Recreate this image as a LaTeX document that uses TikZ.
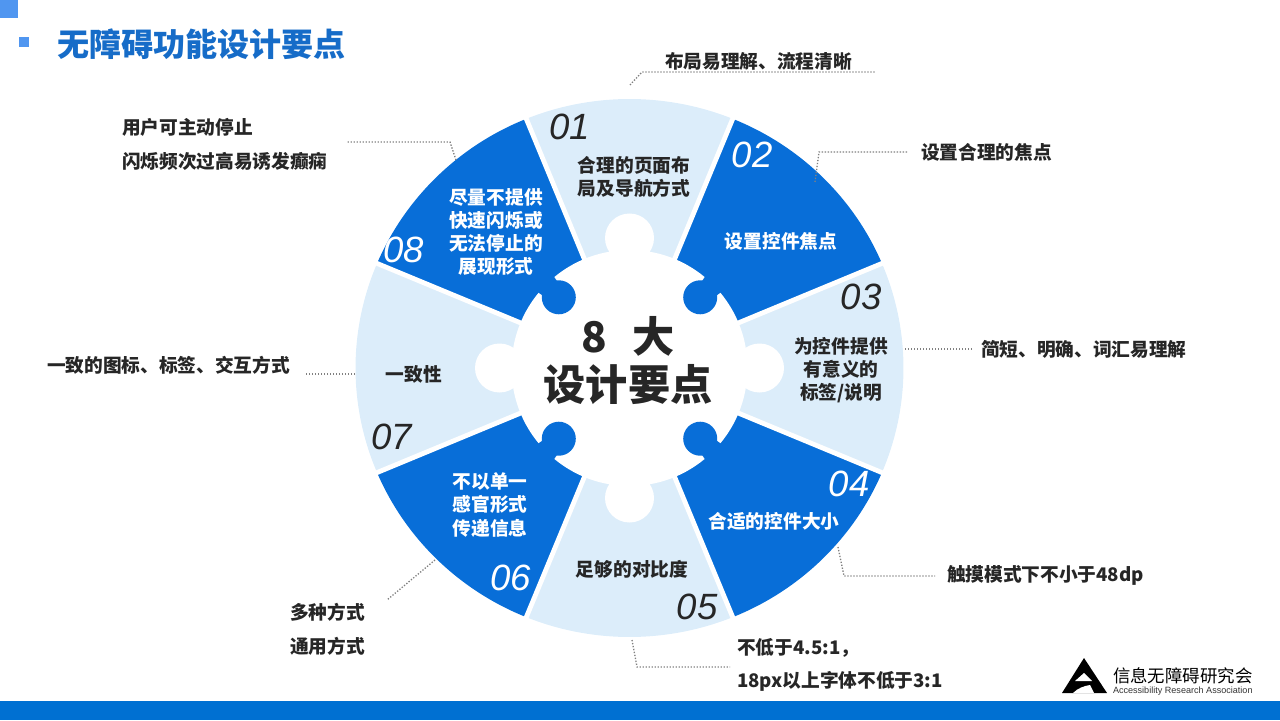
\documentclass[tikz,border=0pt]{standalone}
\usepackage{fontspec}
\setmainfont{Noto Sans CJK SC}
\newfontfamily\numfont{Liberation Sans}
\usetikzlibrary{positioning}

\definecolor{wheelblue}{RGB}{8,110,216}
\definecolor{wheellight}{RGB}{220,237,250}
\definecolor{barblue}{RGB}{0,112,210}
\definecolor{titleblue}{RGB}{22,108,200}
\definecolor{squareblue}{RGB}{80,150,240}
\definecolor{inkdark}{RGB}{38,38,38}

\begin{document}
\begin{tikzpicture}[x=0.25mm, y=0.25mm,
    every node/.style={inner sep=0, outer sep=0},
    note/.style={font=\fontsize{13.3}{16.4}\selectfont\bfseries, text=inkdark, anchor=west},
    inner/.style={font=\fontsize{13.3}{16.4}\selectfont\bfseries, align=center},
    num/.style={font=\numfont\itshape\fontsize{26}{26}\selectfont},
    leader/.style={draw=black!50, line width=0.33mm, dash pattern=on 0.33mm off 0.42mm}]

   \useasboundingbox (0,0) rectangle (1280,720);

   \fill[squareblue] (0,702) rectangle (18,720);
   \fill[squareblue] (19,673) rectangle (29,683);
   \fill[barblue] (0,0) rectangle (1280,19);
   \node[font=\fontsize{22.8}{26}\selectfont\bfseries, text=titleblue, anchor=west] (title) at (57,676) {无障碍功能设计要点};

   \begin{scope}[shift={(629.5,352)}]
     \foreach \a/\c in {90/wheellight, 45/wheelblue, 0/wheellight, 315/wheelblue, 270/wheellight, 225/wheelblue, 180/wheellight, 135/wheelblue}
       \fill[\c] (0,0) -- (\a-22.5:274 and 269) arc[start angle=\a-22.5, end angle=\a+22.5, x radius=274, y radius=269] -- cycle;
     \foreach \a in {22.5,67.5,...,337.5}
       \draw[white, line width=1.2mm] (0,0) -- (\a:285);
     \fill[white] (0,0) circle[radius=118];
     \foreach \a in {0,90,180,270}
       \fill[white, rotate=\a] (130,0) circle[radius=24.5];
     \foreach \a in {45,135,225,315} {
       \fill[wheelblue, rotate=\a] (100,0) circle[radius=17];
       \fill[wheelblue, rotate=\a] (120,-11.5) -- (120,11.5) -- (106,9) -- (106,-9) -- cycle;
     }
   \end{scope}

   \node[inner, text=inkdark] (sec1) at (634,543) {合理的页面布\\局及导航方式};
   \node[inner, text=white] (sec2) at (781,479) {设置控件焦点};
   \node[inner, text=inkdark] (sec3) at (841,350) {为控件提供\\有意义的\\标签/说明};
   \node[inner, text=white] (sec4) at (774,199) {合适的控件大小};
   \node[inner, text=inkdark] (sec5) at (632,151) {足够的对比度};
   \node[inner, text=white] (sec6) at (490,215) {不以单一\\感官形式\\传递信息};
   \node[inner, text=inkdark] (sec7) at (414,346) {一致性};
   \node[inner, text=white] (sec8) at (496,488) {尽量不提供\\快速闪烁或\\无法停止的\\展现形式};

   \node[num, text=inkdark] (num1) at (570,593) {01};
   \node[num, text=white] (num2) at (752,565) {02};
   \node[num, text=inkdark] (num3) at (861,423) {03};
   \node[num, text=white] (num4) at (849,236) {04};
   \node[num, text=inkdark] (num5) at (697,113) {05};
   \node[num, text=white] (num6) at (511,142) {06};
   \node[num, text=inkdark] (num7) at (392,283) {07};
   \node[num, text=white] (num8) at (404,470) {08};

   \node[font=\fontsize{30}{30}\selectfont\bfseries, text=inkdark] (hub1) at (628,384) {8\hspace{0.6em}大};
   \node[font=\fontsize{30}{30}\selectfont\bfseries, text=inkdark] (hub2) at (628,335) {设计要点};

   \node[note] (note1) at (665,659) {布局易理解、流程清晰};
   \node[note] (note2) at (921,568) {设置合理的焦点};
   \node[note] (note3) at (981,371) {简短、明确、词汇易理解};
   \node[note] (note4) at (947,145) {触摸模式下不小于48dp};
   \node[note] (note5) at (737,72) {不低于4.5:1，};
   \node[note] (note5b) at (737,39) {18px以上字体不低于3:1};
   \node[note] (note6) at (290,108) {多种方式};
   \node[note] (note6b) at (290,74) {通用方式};
   \node[note] (note7) at (47,355) {一致的图标、标签、交互方式};
   \node[note] (note8) at (122,593) {用户可主动停止};
   \node[note] (note8b) at (122,559) {闪烁频次过高易诱发癫痫};

   \coordinate (a1) at (630,635);
   \coordinate (b1) at (642,648);
   \coordinate (c1) at (875,648);
   \coordinate (a2) at (815,538);
   \coordinate (b2) at (819,568);
   \coordinate (c2) at (908,568);
   \coordinate (a3) at (905,371);
   \coordinate (c3) at (972,371);
   \coordinate (a4) at (838,173);
   \coordinate (b4) at (844,144);
   \coordinate (c4) at (935,144);
   \coordinate (a5) at (632,80);
   \coordinate (b5) at (637,53);
   \coordinate (c5) at (730,53);
   \coordinate (a6) at (435,160);
   \coordinate (c6) at (387,120);
   \coordinate (a7) at (355,346);
   \coordinate (c7) at (305,346);
   \coordinate (a8) at (456,560);
   \coordinate (b8) at (450,578);
   \coordinate (c8) at (347,578);

   \draw[leader] (a1) -- (b1) -- (c1);
   \draw[leader] (a2) -- (b2) -- (c2);
   \draw[leader] (a3) -- (c3);
   \draw[leader] (a4) -- (b4) -- (c4);
   \draw[leader] (a5) -- (b5) -- (c5);
   \draw[leader] (a6) -- (c6);
   \draw[leader] (a7) -- (c7);
   \draw[leader] (a8) -- (b8) -- (c8);

   \fill[black] (1084,62) -- (1062,27) -- (1107,27) -- cycle;
   \fill[white] (1084,47) -- (1075,39) -- (1092,39) -- cycle;
   \fill[white] (1073,27) .. controls (1078,32) and (1084,34) .. (1090,35) -- (1094,27) -- cycle;
   \node[font=\fontsize{12.4}{14}\selectfont, text=black, anchor=west] (logo1) at (1113,44) {信息无障碍研究会};
   \node[font=\numfont\fontsize{6.45}{7}\selectfont, text=black!80, anchor=west] (logo2) at (1113,29) {Accessibility Research Association};

\end{tikzpicture}
\end{document}
